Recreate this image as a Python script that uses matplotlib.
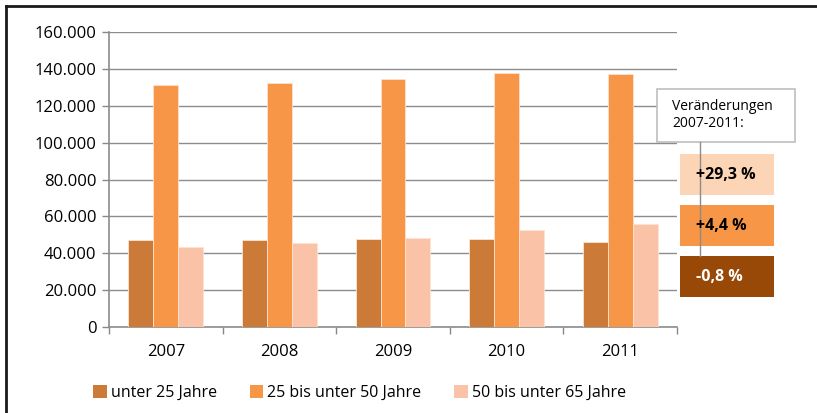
import matplotlib
matplotlib.use("Agg")
import matplotlib.pyplot as plt
from matplotlib.patches import Rectangle, Patch
from matplotlib.lines import Line2D
from matplotlib.ticker import FuncFormatter
import numpy as np

plt.rcParams['font.family'] = ['Open Sans', 'DejaVu Sans']

# Data
years = ["2007", "2008", "2009", "2010", "2011"]
series_names = ["unter 25 Jahre", "25 bis unter 50 Jahre", "50 bis unter 65 Jahre"]
unter_25 = [47200, 47200, 47700, 47700, 46100]
von_25_bis_50 = [131200, 132100, 134300, 137500, 137200]
von_50_bis_65 = [43200, 45500, 48400, 52400, 56000]
changes = ["+29,3 %", "+4,4 %", "-0,8 %"]
y_ticks = [0, 20000, 40000, 60000, 80000, 100000, 120000, 140000, 160000]

colors = ["#CC7A38", "#F79646", "#FAC2A6"]
box_colors = ["#FBD5B5", "#F79646", "#984807"]
box_text_colors = ["black", "black", "white"]

W, H = 817, 413
fig = plt.figure(figsize=(W / 100, H / 100), dpi=100)


def fx(px):
    return px / W


def fy(py):
    return 1 - py / H


ax = fig.add_axes([fx(109), fy(327), fx(677) - fx(109), fy(32) - fy(327)])

x = np.arange(len(years))
width = 0.22
for i, (vals, col) in enumerate(zip([unter_25, von_25_bis_50, von_50_bis_65], colors)):
    ax.bar(x + (i - 1) * width, vals, width, color=col, edgecolor="#FDE3D0",
           linewidth=0.6, zorder=3)

ax.set_xlim(-0.5, len(years) - 0.5)
ax.set_ylim(0, 160000)
ax.set_yticks(y_ticks)
ax.yaxis.set_major_formatter(FuncFormatter(lambda v, p: f"{int(v):,}".replace(",", ".")))
ax.set_xticks(x)
ax.set_xticklabels(years)
ax.set_xticks(np.arange(-0.5, len(years)), minor=True)
ax.tick_params(axis="x", which="major", length=0, pad=12, labelsize=12)
ax.tick_params(axis="x", which="minor", length=5, color="#888888", width=1)
ax.tick_params(axis="y", length=5, color="#888888", width=1, pad=4, labelsize=12)
ax.grid(axis="y", color="#8C8C8C", linewidth=1, zorder=0)
for side in ["top", "right"]:
    ax.spines[side].set_visible(False)
for side in ["left", "bottom"]:
    ax.spines[side].set_color("#8C8C8C")
    ax.spines[side].set_linewidth(1.2)

# Legend
handles = [Patch(facecolor=c, edgecolor="none") for c in colors]
fig.legend(handles, series_names, loc="center left", bbox_to_anchor=(fx(79), fy(393)),
           ncol=3, frameon=False, fontsize=11.5, handlelength=0.85, handleheight=0.85,
           handletextpad=0.25, columnspacing=2.05)

# Connector line behind the boxes
fig.add_artist(Line2D([fx(700), fx(700)], [fy(142), fy(256)], color="#8C8C8C",
                      linewidth=1, transform=fig.transFigure))

# Note box
fig.add_artist(Rectangle((fx(657), fy(142)), fx(795) - fx(657), fy(89) - fy(142),
                         transform=fig.transFigure, facecolor="white",
                         edgecolor="#BFBFBF", linewidth=1.2))
fig.text(fx(672), fy(115), "Veränderungen\n2007-2011:", fontsize=10, ha="left",
         va="center", linespacing=1.2)

# Change boxes
box_tops = [154, 205, 256]
for top, label, bc, tc in zip(box_tops, changes, box_colors, box_text_colors):
    fig.add_artist(Rectangle((fx(680), fy(top + 41)), fx(774) - fx(680), fy(top) - fy(top + 41),
                             transform=fig.transFigure, facecolor=bc, edgecolor="none"))
    fig.text(fx(696), fy(top + 21), label, fontsize=11.5, fontweight="bold", color=tc,
             ha="left", va="center")

# Outer border (left and top)
fig.add_artist(Line2D([fx(6), fx(6)], [0, fy(6)], color="#1A1A1A", linewidth=2,
                      transform=fig.transFigure))
fig.add_artist(Line2D([fx(6), 1], [fy(6), fy(6)], color="#1A1A1A", linewidth=2,
                      transform=fig.transFigure))

fig.savefig("out.png", dpi=100)
